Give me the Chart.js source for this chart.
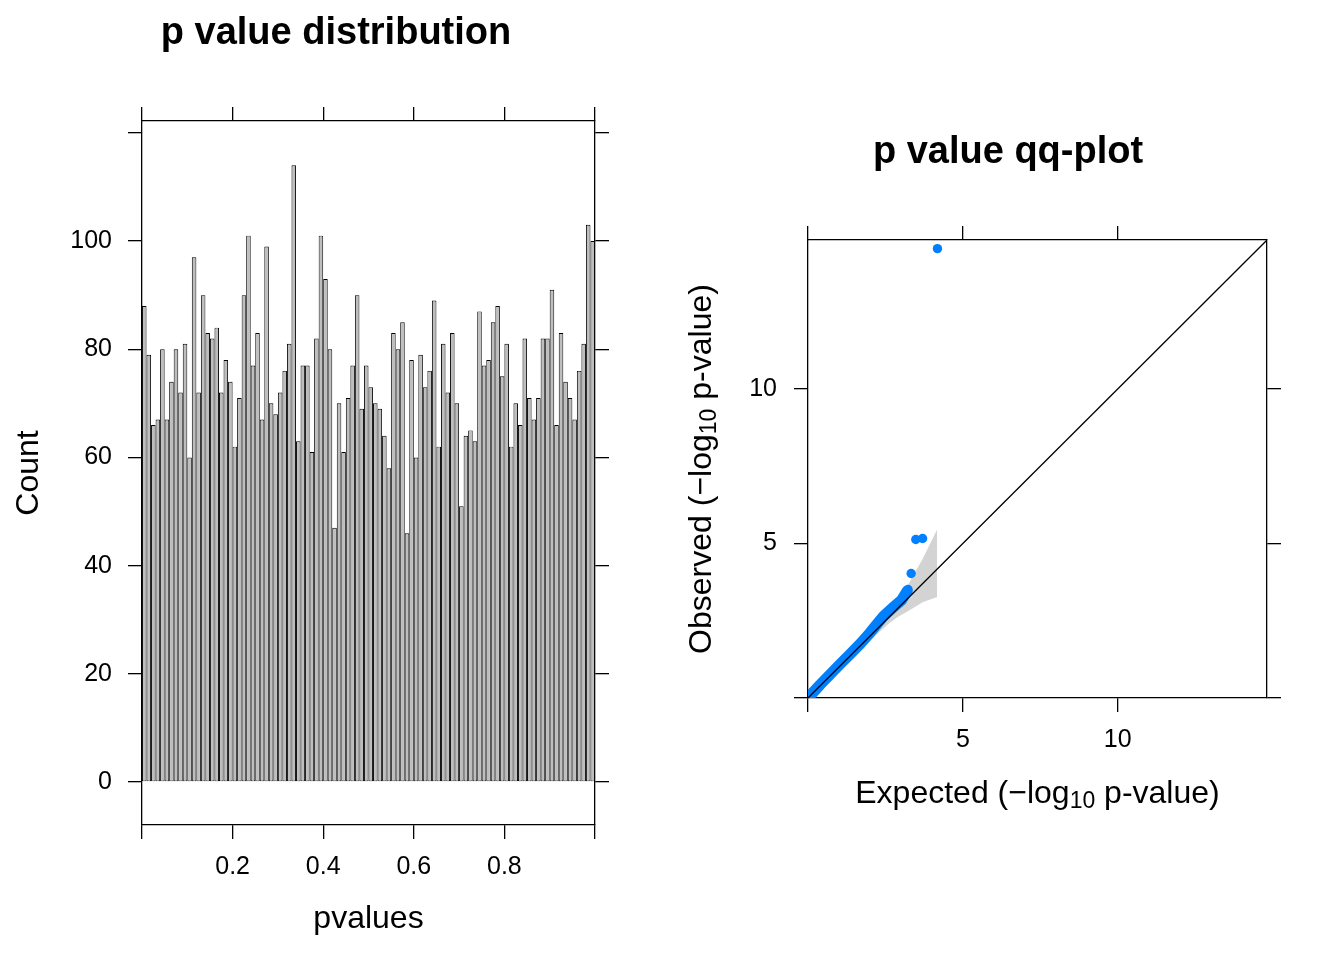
<!DOCTYPE html>
<html>
<head>
<meta charset="utf-8">
<script src="https://cdn.jsdelivr.net/npm/chart.js@4.4.1/dist/chart.umd.min.js"></script>
<style>
html, body { margin: 0; padding: 0; background: #ffffff; }
#wrap { position: relative; width: 1344px; height: 960px; }
#c1 { position: absolute; left: 0; top: 0; }
#c2 { position: absolute; left: 672px; top: 0; }
</style>
</head>
<body>
<div id="wrap">
  <canvas id="c1" width="672" height="960"></canvas>
  <canvas id="c2" width="672" height="960"></canvas>
</div>
<script>
// ---------------- data ----------------
// histogram: 100 bins of width 0.01 on [0, 1]
const binWidth = 0.01;
const counts = [
  88, 79, 66, 67, 80, 67, 74, 80, 72, 81,
  60, 97, 72, 90, 83, 82, 84, 72, 78, 74,
  62, 71, 90, 101, 77, 83, 67, 99, 70, 68,
  72, 76, 81, 114, 63, 77, 77, 61, 82, 101,
  93, 80, 47, 70, 61, 71, 77, 90, 69, 77,
  73, 70, 69, 64, 58, 83, 80, 85, 46, 78,
  60, 79, 73, 76, 89, 62, 81, 72, 83, 70,
  51, 64, 65, 63, 87, 77, 78, 85, 88, 75,
  81, 62, 70, 66, 82, 71, 67, 71, 82, 82,
  91, 66, 83, 74, 71, 67, 76, 81, 103, 100
];
const histXTicks = [0, 0.2, 0.4, 0.6, 0.8, 1];
const histYTicks = [0, 20, 40, 60, 80, 100, 120];
const histXRange = [0, 1];
const histYRange = [-7.95, 122.2];

// qq-plot (expected vs observed -log10 p)
const qqRange = [0, 14.82];
const qqTicks = [0, 5, 10];
const curveExpected = [0.0, 0.39, 1.0, 1.36, 1.7, 2.0, 2.25, 2.45, 2.75, 3.02, 3.2];
const curveObserved = [0.0, 0.43, 1.06, 1.42, 1.77, 2.11, 2.42, 2.66, 2.93, 3.17, 3.46];
const topExpected = [3.23, 3.33, 3.48, 3.70, 4.18];
const topObserved = [3.51, 4.03, 5.13, 5.16, 14.54];
const bandExpected = [1.6, 1.9, 2.2, 2.6, 2.9, 3.25, 3.7, 4.17];
const bandUpper    = [1.72, 2.05, 2.37, 2.83, 3.22, 3.70, 4.50, 5.45];
const bandLower    = [1.52, 1.78, 2.04, 2.40, 2.62, 2.82, 3.10, 3.27];

// ---------------- styling ----------------
const FONT = '"Liberation Sans", Arial, Helvetica, sans-serif';
const BLUE = '#0080ff';
const LINE_W = 1.3;
Chart.defaults.font.family = FONT;
Chart.defaults.color = '#000000';

function pts(xs, ys) { return xs.map((x, i) => ({ x: x, y: ys[i] })); }

function axis(position, range, tickValues, o) {
  return {
    type: 'linear',
    position: position,
    axis: (position === 'top' || position === 'bottom') ? 'x' : 'y',
    min: range[0],
    max: range[1],
    offset: false,
    afterBuildTicks: s => { s.ticks = tickValues.map(v => ({ value: v })); },
    afterFit: s => {
      if (o.width != null) s.width = o.width;
      if (o.height != null) s.height = o.height;
    },
    grid: { display: true, offset: false, drawOnChartArea: false, drawTicks: true, tickLength: 14,
            color: '#000000', lineWidth: LINE_W },
    border: { display: true, color: '#000000', width: LINE_W },
    ticks: { display: !!o.labels, padding: o.pad || 0, font: { size: 25 }, color: '#000000',
             maxRotation: 0, minRotation: 0, autoSkip: false,
             callback: o.labels || (() => '') },
    title: o.title || { display: false }
  };
}

// subscript-capable axis titles (drawn as text on the canvas)
const subTitles = {
  id: 'subTitles',
  afterDraw(chart, args, opts) {
    const ctx = chart.ctx, ca = chart.chartArea;
    (opts.items || []).forEach(it => {
      ctx.save();
      ctx.fillStyle = '#000000';
      ctx.textBaseline = 'alphabetic';
      ctx.textAlign = 'left';
      const mainF = it.size + 'px ' + FONT, subF = it.subSize + 'px ' + FONT;
      let w = 0;
      it.parts.forEach(p => { ctx.font = p.sub ? subF : mainF; w += ctx.measureText(p.text).width; });
      if (it.vertical) {
        ctx.translate(it.base, (ca.top + ca.bottom) / 2);
        ctx.rotate(-Math.PI / 2);
      } else {
        ctx.translate((ca.left + ca.right) / 2, ca.bottom + it.base);
      }
      let x = -w / 2;
      it.parts.forEach(p => {
        ctx.font = p.sub ? subF : mainF;
        ctx.fillText(p.text, x, p.sub ? it.shift : 0);
        x += ctx.measureText(p.text).width;
      });
      ctx.restore();
    });
  }
};

// ---------------- histogram ----------------
new Chart(document.getElementById('c1'), {
  type: 'bar',
  data: {
    datasets: [{
      data: counts.map((c, i) => ({ x: (i + 0.5) * binWidth, y: c })),
      backgroundColor: '#bebebe',
      borderColor: '#000000',
      borderWidth: 0.95,
      borderSkipped: false,
      inflateAmount: 0,
      barPercentage: 1,
      categoryPercentage: 1
    }]
  },
  options: {
    responsive: false,
    devicePixelRatio: 1,
    animation: false,
    events: [],
    layout: { padding: { left: 0, right: 0, top: 0, bottom: 0 } },
    plugins: {
      legend: { display: false },
      tooltip: { enabled: false },
      title: { display: true, text: 'p value distribution', align: 'center',
               font: { size: 38, weight: 'bold' }, color: '#000000',
               padding: { top: 11, bottom: 0 } }
    },
    scales: {
      x: axis('bottom', histXRange, histXTicks, {
        height: 135, pad: 13.5,
        labels: v => (v === 0 || v === 1) ? '' : v.toFixed(1),
        title: { display: true, text: 'pvalues', font: { size: 32 }, color: '#000000',
                 padding: { top: 0, bottom: 21.2 } }
      }),
      x2: axis('top', histXRange, histXTicks, { height: 64.4 }),
      y: axis('left', histYRange, histYTicks, {
        width: 142, pad: 16,
        labels: v => v === 120 ? '' : String(v),
        title: { display: true, text: 'Count', font: { size: 32 }, color: '#000000',
                 padding: { top: 9.8, bottom: 0 } }
      }),
      y2: axis('right', histYRange, histYTicks, { width: 77 })
    }
  }
});

// ---------------- qq-plot ----------------
new Chart(document.getElementById('c2'), {
  type: 'line',
  data: {
    datasets: [
      { // identity line
        data: pts(qqRange, qqRange),
        borderColor: '#000000', borderWidth: LINE_W, pointRadius: 0, fill: false, clip: 0
      },
      { // most extreme points
        data: pts(topExpected, topObserved),
        showLine: false, pointRadius: 4.7, pointBackgroundColor: BLUE,
        pointBorderWidth: 0, pointBorderColor: BLUE, fill: false
      },
      { // dense body of points
        data: pts(curveExpected, curveObserved),
        borderColor: BLUE, borderWidth: 11, pointRadius: 0, fill: false,
        borderCapStyle: 'round', borderJoinStyle: 'round', tension: 0, clip: 0
      },
      { // confidence band upper
        data: pts(bandExpected, bandUpper),
        borderColor: 'rgba(0,0,0,0)', borderWidth: 0, pointRadius: 0,
        fill: '+1', backgroundColor: '#d3d3d3', tension: 0
      },
      { // confidence band lower
        data: pts(bandExpected, bandLower),
        borderColor: 'rgba(0,0,0,0)', borderWidth: 0, pointRadius: 0, fill: false, tension: 0
      }
    ]
  },
  options: {
    responsive: false,
    devicePixelRatio: 1,
    animation: false,
    events: [],
    layout: { padding: { left: 0, right: 0, top: 0, bottom: 0 } },
    plugins: {
      legend: { display: false },
      tooltip: { enabled: false },
      title: { display: true, text: 'p value qq-plot', align: 'center',
               font: { size: 38, weight: 'bold' }, color: '#000000',
               padding: { top: 130, bottom: 0 } },
      subTitles: {
        items: [
          { vertical: false, base: 105, size: 32, subSize: 23, shift: 5,
            parts: [{ text: 'Expected (\u2212log' }, { text: '10', sub: true }, { text: ' p-value)' }] },
          { vertical: true, base: 39, size: 32, subSize: 23, shift: 5,
            parts: [{ text: 'Observed (\u2212log' }, { text: '10', sub: true }, { text: ' p-value)' }] }
        ]
      }
    },
    scales: {
      x: axis('bottom', qqRange, qqTicks, { height: 262, pad: 13.5,
        labels: v => v === 0 ? '' : String(v) }),
      x2: axis('top', qqRange, qqTicks, { height: 64.4 }),
      y: axis('left', qqRange, qqTicks, { width: 136, pad: 17,
        labels: v => v === 0 ? '' : String(v) }),
      y2: axis('right', qqRange, qqTicks, { width: 77 })
    }
  },
  plugins: [subTitles]
});
</script>
</body>
</html>
